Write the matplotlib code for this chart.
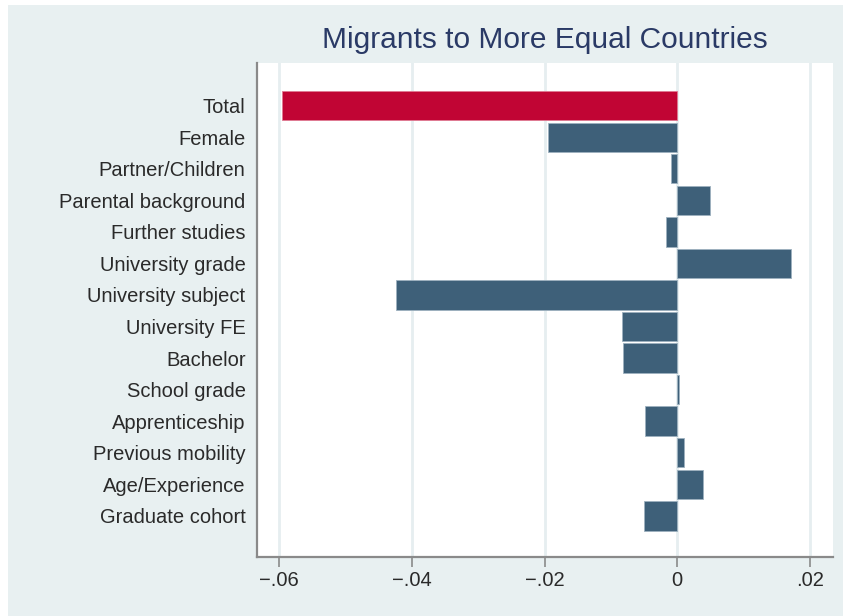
import matplotlib
matplotlib.use("Agg")
import matplotlib.pyplot as plt
from matplotlib.patches import Rectangle

# Decomposition components (top to bottom)
categories = [
    "Total", "Female", "Partner/Children", "Parental background",
    "Further studies", "University grade", "University subject",
    "University FE", "Bachelor", "School grade", "Apprenticeship",
    "Previous mobility", "Age/Experience", "Graduate cohort",
]
values = [
    -0.0596, -0.0194, -0.0010, 0.0050,
    -0.00165, 0.0172, -0.0423,
    -0.0084, -0.0081, 0.0002, -0.0049,
    0.0010, 0.0039, -0.0050,
]
xticks = [-0.06, -0.04, -0.02, 0.0, 0.02]
xticklabels = ["\u2212.06", "\u2212.04", "\u2212.02", "0", ".02"]
title = "Migrants to More Equal Countries"

BG = "#e8f0f1"
NAVY = "#3e6079"
RED = "#c10534"
GRID = "#e6eef0"

plt.rcParams["font.family"] = ["Liberation Sans", "DejaVu Sans"]

fig = plt.figure(figsize=(8.43, 6.16), dpi=100, facecolor="white")
# shaded outer region
fig.patches.append(Rectangle((8 / 843, 0), 1 - 8 / 843, 1 - 5 / 616,
                             transform=fig.transFigure, facecolor=BG,
                             edgecolor="none", zorder=-10))

ax = fig.add_axes([0.3045, 0.0950, 0.9878 - 0.3045, 0.8982 - 0.0950])
ax.set_facecolor("white")

positions = list(range(len(categories)))
colors = [RED] + [NAVY] * (len(categories) - 1)
edges = ["#e07a92"] + ["#9db1bf"] * (len(categories) - 1)
ax.barh(positions, values, height=0.93, color=colors, edgecolor=edges,
        linewidth=0.6, zorder=3)

ax.set_ylim(13 + 1.32, -1.36)
ax.set_xlim(-0.06336, 0.02342)

ax.set_yticks(positions)
ax.set_yticklabels(categories, fontsize=14.5, color="#2a2a2a")
ax.tick_params(axis="y", length=0, pad=8)

ax.set_xticks(xticks)
ax.set_xticklabels(xticklabels, fontsize=14.5, color="#2a2a2a")
ax.tick_params(axis="x", length=7, width=1.2, color="#8a8a8a", pad=3,
               direction="out")

for xv in xticks:
    ax.axvline(xv, color=GRID, linewidth=2.0, zorder=1)

for side in ("top", "right"):
    ax.spines[side].set_visible(False)
for side in ("left", "bottom"):
    ax.spines[side].set_color("#8a8a8a")
    ax.spines[side].set_linewidth(1.6)

ax.set_title(title, fontsize=21.5, color="#2a3a66", pad=10.5)

fig.savefig("out.png", dpi=100, facecolor="white")
